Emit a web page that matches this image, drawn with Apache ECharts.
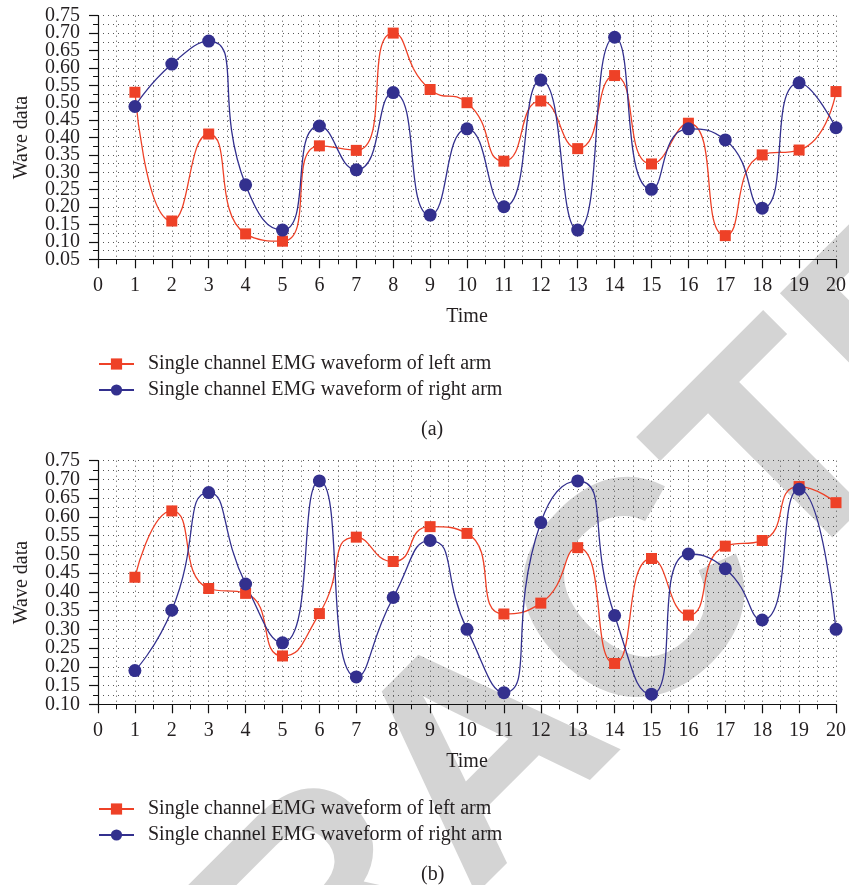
<!DOCTYPE html>
<html>
<head>
<meta charset="utf-8">
<script src="https://cdn.jsdelivr.net/npm/echarts@6/dist/echarts.min.js"></script>
<style>
html,body{margin:0;padding:0;background:#fff;}
#chart{width:849px;height:885px;}
</style>
</head>
<body>
<div id="chart"></div>
<script>
// ---- data ----
const times = [1,2,3,4,5,6,7,8,9,10,11,12,13,14,15,16,17,18,19,20];
const seriesNames = ['Single channel EMG waveform of left arm', 'Single channel EMG waveform of right arm'];
const panelLabels = ['(a)', '(b)'];
const leftArmA  = [0.530,0.160,0.410,0.123,0.102,0.376,0.363,0.700,0.538,0.500,0.332,0.505,0.368,0.578,0.324,0.441,0.118,0.350,0.364,0.532];
const rightArmA = [0.489,0.611,0.677,0.264,0.134,0.433,0.307,0.529,0.177,0.425,0.201,0.565,0.134,0.688,0.251,0.425,0.393,0.197,0.557,0.428];
const leftArmB  = [0.439,0.616,0.409,0.396,0.229,0.342,0.546,0.481,0.574,0.556,0.341,0.370,0.518,0.209,0.489,0.338,0.522,0.537,0.681,0.638];
const rightArmB = [0.190,0.351,0.665,0.421,0.264,0.696,0.173,0.385,0.537,0.300,0.131,0.585,0.696,0.337,0.127,0.501,0.462,0.325,0.674,0.300];
const yRangeA = [0.05, 0.75];
const yRangeB = [0.10, 0.75];
const yStep = 0.05;
const xRange = [0, 20];
const watermarkText = 'RETRACTED';

// ---- styles ----
const RED = '#EE4127';
const BLUE = '#33308E';
const TXT = '#231F20';
const FONT = '"Liberation Serif", "Times New Roman", serif';

function pairs(ys){ return times.map((t,i)=>[t, ys[i]]); }

function xAxisCfg(gridIndex){
  return {
    type:'value', gridIndex, min:xRange[0], max:xRange[1], interval:1,
    name:'Time', nameLocation:'middle', nameGap:47,
    nameTextStyle:{fontFamily:FONT, fontSize:20, color:TXT},
    axisLine:{show:true, onZero:false, lineStyle:{color:'#111', width:1.2}},
    axisTick:{show:true, inside:false, length:9, lineStyle:{color:'#111', width:1.2}},
    minorTick:{show:true, splitNumber:2, length:5, lineStyle:{color:'#111', width:1}},
    axisLabel:{fontFamily:FONT, fontSize:20, color:TXT, margin:16, showMinLabel:true, showMaxLabel:true},
    splitLine:{show:true, lineStyle:{color:'#555', width:1, type:[1,4]}},
    minorSplitLine:{show:true, lineStyle:{color:'#555', width:1, type:[1,4]}}
  };
}
// Two y axes share each grid: one labels even ticks, the other odd ticks,
// so ECharts' min/max overlap fix never removes a real label.
function yAxisCfg(gridIndex, range, parity){
  const nTicks = Math.round((range[1]-range[0])/yStep);
  const idx = v => Math.round((v - range[0]) / yStep);
  const main = parity === 0;
  return {
    type:'value', gridIndex, min:range[0], max:range[1], interval:yStep, position:'left',
    name: main ? 'Wave data' : '', nameLocation:'middle', nameGap:66,
    nameTextStyle:{fontFamily:FONT, fontSize:20, color:TXT},
    axisLine:{show:main, onZero:false, lineStyle:{color:'#111', width:1.2}},
    axisTick:{show:main, inside:false, length:9, lineStyle:{color:'#111', width:1.2}},
    minorTick:{show:main, splitNumber:2, length:5, lineStyle:{color:'#111', width:1}},
    axisLabel:{fontFamily:FONT, fontSize:20, color:TXT, margin:18,
               showMinLabel: (0 % 2) === parity, showMaxLabel: (nTicks % 2) === parity,
               formatter: v => (idx(v) % 2 === parity) ? v.toFixed(2) : ''},
    splitLine:{show:main, lineStyle:{color:'#555', width:1, type:[1,4]}},
    minorSplitLine:{show:main, lineStyle:{color:'#555', width:1, type:[1,4]}}
  };
}
function lineSeries(name, data, idx, color, symbol, size){
  return {
    name, type:'line', xAxisIndex:idx, yAxisIndex:idx*2, data:pairs(data),
    smooth:0.6, clip:false, symbol, symbolSize:size, showSymbol:true,
    lineStyle:{color, width:1.3}, itemStyle:{color, borderWidth:0},
    emphasis:{disabled:true}, z:3
  };
}
function legendCfg(top){
  return {
    orient:'vertical', left:98, top, padding:0, itemWidth:35, itemHeight:14, itemGap:6,
    textStyle:{fontFamily:FONT, fontSize:20, color:TXT, padding:[0,0,0,9]},
    data:seriesNames, selectedMode:false
  };
}

const chart = echarts.init(document.getElementById('chart'), null, {renderer:'canvas'});
chart.setOption({
  animation:false,
  backgroundColor:'#fff',
  graphic:[{
    type:'text', x:489, y:762, rotation:Math.PI/4, z:-10, silent:true,
    style:{text:watermarkText, fill:'#D4D4D4', font:'bold 305px "Liberation Sans", Arial, sans-serif', align:'center', verticalAlign:'middle'}
  }],
  title:[
    {text:panelLabels[0], left:416, top:415, textStyle:{fontFamily:FONT, fontSize:20, fontWeight:'normal', color:TXT}},
    {text:panelLabels[1], left:416, top:860, textStyle:{fontFamily:FONT, fontSize:20, fontWeight:'normal', color:TXT}}
  ],
  grid:[
    {left:98, top:15.7, width:740, height:243.6, containLabel:false},
    {left:98, top:460.7, width:740, height:243.6, containLabel:false}
  ],
  xAxis:[xAxisCfg(0), xAxisCfg(1)],
  yAxis:[yAxisCfg(0, yRangeA, 0), yAxisCfg(0, yRangeA, 1), yAxisCfg(1, yRangeB, 0), yAxisCfg(1, yRangeB, 1)],
  legend:[legendCfg(354), legendCfg(799)],
  series:[
    lineSeries(seriesNames[0], leftArmA, 0, RED, 'rect', 11),
    lineSeries(seriesNames[1], rightArmA, 0, BLUE, 'circle', 13),
    lineSeries(seriesNames[0], leftArmB, 1, RED, 'rect', 11),
    lineSeries(seriesNames[1], rightArmB, 1, BLUE, 'circle', 13)
  ]
});
</script>
</body>
</html>
